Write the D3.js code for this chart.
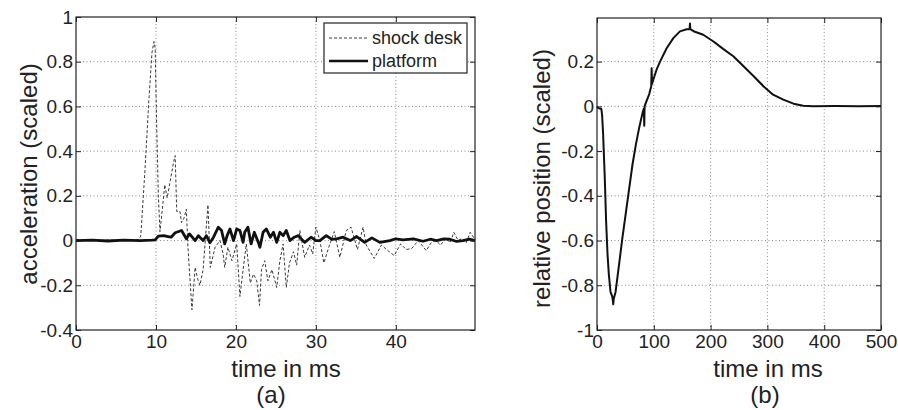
<!DOCTYPE html>
<html>
<head>
<meta charset="utf-8">
<script src="https://cdn.jsdelivr.net/npm/d3@7"></script>
<style>
    body { margin: 0; background: #fff; }
    svg { display: block; font-family: "Liberation Sans", Arial, Helvetica, sans-serif; }
</style>
</head>
<body>
<svg id="svg-main" width="898" height="410"></svg>
<script>
// ---- (a) acceleration data ----
let deskTime = [0, 1, 2, 3, 4, 5, 6, 7, 7.8, 8.1, 8.6, 9.1, 9.5, 9.75, 9.9, 10.1, 10.3, 10.5, 10.8, 11.1,
    11.4, 11.8, 12.2, 12.4, 12.6, 13.0, 13.2, 13.5, 13.8, 14.0, 14.5, 14.9, 15.2, 15.5, 15.9, 16.5, 16.8,
    17.4, 18.0, 18.4, 18.6, 19.0, 19.5, 20.1, 20.5, 20.9, 21.3, 21.8, 22.2, 22.6, 22.95, 23.2, 23.6, 24.0,
    24.5, 25.1, 25.5, 25.9, 26.3, 26.7, 27.2, 27.6, 28.0, 28.6, 29.2, 29.6, 30.0, 30.5, 31.0, 31.7, 32.3,
    33.0, 33.8, 34.4, 35.2, 35.9, 36.3, 37.3, 38.2, 39.0, 39.8, 40.6, 41.3, 42.0, 42.8, 43.8, 44.4, 45.0,
    45.6, 46.25, 46.8, 47.25, 47.8, 48.3, 48.8, 49.3, 49.9];
let deskAcc = [0.005, 0.002, 0.004, 0.0, 0.003, 0.001, 0.004, 0.001, 0.004, 0.02, 0.3, 0.62, 0.84, 0.89, 0.86, 0.5, 0.2, 0.04, 0.14, 0.25,
    0.19, 0.27, 0.35, 0.38, 0.13, 0.13, 0.08, 0.1, 0.14, -0.03, -0.31, -0.12, -0.17, -0.2, -0.13, 0.16, -0.12,
    -0.03, 0.0, -0.06, -0.12, -0.03, -0.09, -0.015, -0.25, -0.13, -0.015, -0.19, -0.15, -0.18, -0.29, -0.13, -0.09, -0.18,
    -0.13, -0.21, -0.09, -0.015, -0.21, -0.1, -0.05, -0.11, 0.045, -0.075, -0.02, -0.06, 0.06, 0.0, -0.1, -0.02, 0.04,
    -0.075, 0.045, 0.06, -0.04, 0.06, -0.02, -0.08, -0.02, -0.045, -0.067, -0.015, -0.04, -0.035, 0.0, -0.045, -0.01, 0.0,
    -0.02, 0.01, -0.01, 0.037, 0.0, 0.01, -0.01, 0.037, 0.005];

let platTime = [0, 2, 4, 6, 8, 9.5, 9.9, 10.3, 11.0, 11.5, 11.9, 12.4, 13.2, 13.8, 14.2, 14.9, 15.3, 15.9, 16.3,
    16.75, 17.2, 17.8, 18.2, 18.6, 18.9, 19.25, 19.7, 20.1, 20.5, 20.9, 21.1, 21.5, 21.9, 22.3, 22.8, 23.0,
    23.4, 23.8, 24.3, 24.7, 25.1, 25.5, 25.9, 26.3, 26.75, 27.3, 27.8, 28.6, 29.4, 30.0, 30.5, 31.3, 32.0,
    32.6, 33.4, 34.3, 35.1, 36.1, 37.0, 38.0, 39.25, 40.0, 40.9, 42.2, 43.4, 44.3, 45.1, 46.0, 46.75, 47.6,
    48.4, 49.2, 49.9];
let platAcc = [0.0, 0.002, -0.002, 0.002, 0.0, 0.002, 0.003, 0.02, 0.022, 0.018, 0.015, 0.035, 0.045, 0.008, 0.03, 0.0, 0.022, 0.0, 0.022,
    -0.01, 0.015, 0.06, 0.045, -0.015, 0.022, 0.052, 0.0, 0.052, 0.045, -0.008, 0.037, 0.06, -0.015, 0.037, -0.008, -0.03,
    0.037, 0.052, 0.015, 0.037, -0.008, 0.037, 0.022, 0.045, 0.0, 0.015, 0.022, -0.008, 0.015, 0.0, 0.0, 0.022, 0.005,
    0.008, 0.015, 0.0, 0.018, -0.008, 0.012, -0.008, 0.0, 0.008, 0.003, 0.008, -0.003, 0.006, 0.0, 0.008, 0.006, -0.004,
    0.0, 0.006, 0.0];

// ---- (b) relative position data ----
let posTime = [0, 1, 3, 5, 7.7, 9, 10.7, 12.2, 13.7, 16.0, 18.5, 20.8, 23.8, 26.8, 28.0, 28.6, 29.5, 32.7, 38.7,
    44.6, 50.6, 56.5, 62.5, 68.5, 74.4, 80.4, 82.5, 83.2, 83.8, 86.3, 92, 95.5, 96.2, 96.8, 99.2, 105, 111,
    122.6, 134.4, 146, 157.9, 163, 163.7, 164.3, 170, 187, 205, 222, 240, 258, 275, 293, 310, 328, 346, 363,
    381, 420, 460, 500];
let posVal = [0.0, -0.005, -0.008, -0.01, -0.012, -0.04, -0.12, -0.22, -0.32, -0.51, -0.66, -0.75, -0.83, -0.85, -0.87, -0.885, -0.86, -0.83, -0.71,
    -0.59, -0.48, -0.37, -0.26, -0.17, -0.094, -0.027, -0.01, -0.087, 0.0, 0.018, 0.055, 0.09, 0.17, 0.1, 0.12, 0.165, 0.2,
    0.26, 0.305, 0.335, 0.345, 0.345, 0.37, 0.345, 0.336, 0.32, 0.29, 0.257, 0.224, 0.179, 0.137, 0.09, 0.052, 0.03, 0.012, 0.003,
    0.0, 0.001, 0.0, 0.002];

// ticks
let accXTicks = [0, 10, 20, 30, 40];
let accYTicks = [-0.4, -0.2, 0, 0.2, 0.4, 0.6, 0.8, 1];
let posXTicks = [0, 100, 200, 300, 400, 500];
let posYTicks = [-1, -0.8, -0.6, -0.4, -0.2, 0, 0.2];
let legendNames = ['shock desk', 'platform'];

let svg = d3.select('#svg-main');

// 画一个 MATLAB 风格的坐标框 (grid)
function draw_frame(x, y, xTicks, yTicks) {
    let g = svg.append('g');
    let x0 = x.range()[0], x1 = x.range()[1],
        y0 = y.range()[0], y1 = y.range()[1];
    // dotted grid
    xTicks.forEach(function (t) {
        if (x(t) <= x0 + 1 || x(t) >= x1 - 1) return;
        g.append('line').attr('x1', x(t)).attr('x2', x(t)).attr('y1', y1).attr('y2', y0)
            .attr('stroke', '#8a8a8a').attr('stroke-width', 1).attr('stroke-dasharray', '1,2.5');
    });
    yTicks.forEach(function (t) {
        if (y(t) >= y0 - 1 || y(t) <= y1 + 1) return;
        g.append('line').attr('x1', x0).attr('x2', x1).attr('y1', y(t)).attr('y2', y(t))
            .attr('stroke', '#8a8a8a').attr('stroke-width', 1).attr('stroke-dasharray', '1,2.5');
    });
    return g;
}

function draw_axes(x, y, xTicks, yTicks) {
    let x0 = x.range()[0], x1 = x.range()[1],
        y0 = y.range()[0], y1 = y.range()[1];
    let fmt = function (d) { return String(Math.round(d * 10) / 10); };
    let bottom = svg.append('g').attr('transform', 'translate(0,' + y0 + ')')
        .call(d3.axisBottom(x).tickValues(xTicks).tickFormat(fmt).tickSizeInner(-5).tickSizeOuter(0).tickPadding(5));
    let top = svg.append('g').attr('transform', 'translate(0,' + y1 + ')')
        .call(d3.axisTop(x).tickValues(xTicks).tickFormat('').tickSizeInner(-5).tickSizeOuter(0));
    let left = svg.append('g').attr('transform', 'translate(' + x0 + ',0)')
        .call(d3.axisLeft(y).tickValues(yTicks).tickFormat(fmt).tickSizeInner(-5).tickSizeOuter(0).tickPadding(3));
    let right = svg.append('g').attr('transform', 'translate(' + x1 + ',0)')
        .call(d3.axisRight(y).tickValues(yTicks).tickFormat('').tickSizeInner(-5).tickSizeOuter(0));
    [bottom, top, left, right].forEach(function (a) {
        a.selectAll('.domain').remove();
        a.selectAll('line').attr('stroke', '#222');
        a.selectAll('text').attr('fill', '#222').style('font-size', '19px')
            .style('font-family', '"Liberation Sans", Arial, sans-serif');
    });
    svg.append('rect').attr('x', x0).attr('y', y1).attr('width', x1 - x0).attr('height', y0 - y1)
        .attr('fill', 'none').attr('stroke', '#222').attr('stroke-width', 1.2);
}

function add_label(text, px, py, rotate) {
    let t = svg.append('text').text(text).attr('fill', '#222')
        .attr('text-anchor', 'middle').style('font-size', '24px');
    if (rotate) t.attr('transform', 'translate(' + px + ',' + py + ') rotate(-90)');
    else t.attr('x', px).attr('y', py);
}

// ---- 画 (a) ----
function draw_acceleration() {
    let x = d3.scaleLinear().domain([0, 49.9]).range([76, 475]);
    let y = d3.scaleLinear().domain([-0.4, 1]).range([330, 17]);
    let g = draw_frame(x, y, accXTicks, accYTicks);

    let line = d3.line().x(function (d) { return x(d[0]); }).y(function (d) { return y(d[1]); });
    let desk = deskTime.map(function (t, i) { return [t, deskAcc[i]]; });
    let plat = platTime.map(function (t, i) { return [t, platAcc[i]]; });

    g.append('path').attr('d', line(desk)).attr('fill', 'none')
        .attr('stroke', '#3a3a3a').attr('stroke-width', 1).attr('stroke-dasharray', '3,2');
    g.append('path').attr('d', line(plat)).attr('fill', 'none')
        .attr('stroke', '#111').attr('stroke-width', 2.8).attr('stroke-linejoin', 'round');

    draw_axes(x, y, accXTicks, accYTicks);

    // legend
    let lg = svg.append('g');
    lg.append('rect').attr('x', 324).attr('y', 23).attr('width', 143).attr('height', 50)
        .attr('fill', '#fff').attr('stroke', '#222').attr('stroke-width', 1.2);
    legendNames.forEach(function (name, i) {
        let ly = 38 + i * 23;
        lg.append('line').attr('x1', 329).attr('x2', 368).attr('y1', ly).attr('y2', ly)
            .attr('stroke', i === 0 ? '#3a3a3a' : '#111')
            .attr('stroke-width', i === 0 ? 1 : 2.6)
            .attr('stroke-dasharray', i === 0 ? '3,2' : null);
        lg.append('text').text(name).attr('x', 372).attr('y', ly).attr('dy', '0.35em')
            .attr('fill', '#222').style('font-size', '18px');
    });

    add_label('time in ms', 286, 377, false);
    add_label('(a)', 271, 403, false);
    add_label('acceleration (scaled)', 36.5, 174, true);
}

// ---- 画 (b) ----
function draw_position() {
    let x = d3.scaleLinear().domain([0, 500]).range([597, 881]);
    let y = d3.scaleLinear().domain([-1, 0.395]).range([330, 18]);
    let g = draw_frame(x, y, posXTicks, posYTicks);

    let line = d3.line().x(function (d) { return x(d[0]); }).y(function (d) { return y(d[1]); });
    let pos = posTime.map(function (t, i) { return [t, posVal[i]]; });
    g.append('path').attr('d', line(pos)).attr('fill', 'none')
        .attr('stroke', '#111').attr('stroke-width', 2).attr('stroke-linejoin', 'round');

    draw_axes(x, y, posXTicks, posYTicks);

    add_label('time in ms', 768, 377, false);
    add_label('(b)', 765, 403, false);
    add_label('relative position (scaled)', 550, 178.5, true);
}

draw_acceleration();
draw_position();
</script>
</body>
</html>
